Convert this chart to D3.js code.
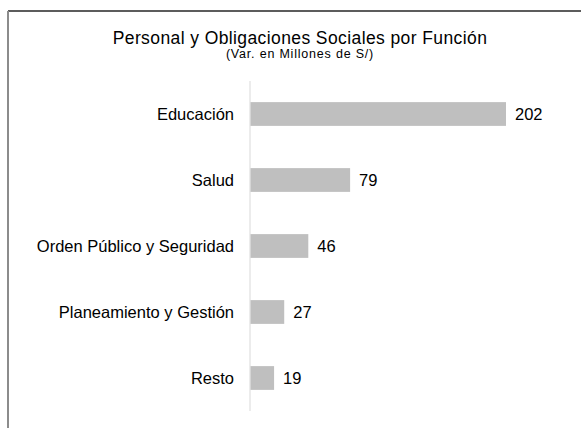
<!DOCTYPE html>
<html>
<head>
<meta charset="utf-8">
<script src="https://cdn.jsdelivr.net/npm/d3@7"></script>
<style>
  body{margin:0;background:#fff;}
  svg{display:block;font-family:"Liberation Sans",Arial,sans-serif;}
</style>
</head>
<body>
<svg id="chart" width="581" height="428"></svg>
<script>
// datos del grafico
var categorias = ['Educación','Salud','Orden Público y Seguridad','Planeamiento y Gestión','Resto'];
var valores = [202,79,46,27,19];
var titulo = 'Personal y Obligaciones Sociales por Función';
var subtitulo = '(Var. en Millones de S/)';

var svg = d3.select('#chart');

// marco
svg.append('line').attr('x1',8).attr('x2',581).attr('y1',11).attr('y2',11)
   .attr('stroke','#262626').attr('stroke-width',1.5);
svg.append('line').attr('x1',8).attr('x2',8).attr('y1',11).attr('y2',428)
   .attr('stroke','#8c8c8c').attr('stroke-width',2);

// titulos
svg.append('text').text(titulo)
   .attr('x',300).attr('y',44).attr('text-anchor','middle')
   .attr('font-size',17.5).attr('letter-spacing',0.4).attr('fill','#000');
svg.append('text').text(subtitulo)
   .attr('x',300).attr('y',58).attr('text-anchor','middle')
   .attr('font-size',12.5).attr('letter-spacing',0.8).attr('fill','#000');

var x0 = 250;
var x = d3.scaleLinear().domain([0,202]).range([x0,506]);
var y = d3.scaleBand().domain(categorias).range([81,411])
          .paddingInner(0.64).paddingOuter(0.32);

// eje vertical
svg.append('line').attr('x1',x0).attr('x2',x0).attr('y1',81).attr('y2',411)
   .attr('stroke','#d9d9d9').attr('stroke-width',1);

var g = svg.append('g');
g.selectAll('rect').data(valores).enter().append('rect')
   .attr('x',x(0)+0.5)
   .attr('y',function(d,i){return y(categorias[i]);})
   .attr('width',function(d){return x(d)-x(0)-0.5;})
   .attr('height',y.bandwidth())
   .attr('fill','#bfbfbf');

// etiquetas categoria
g.selectAll('.cat').data(categorias).enter().append('text')
   .attr('class','cat')
   .text(function(d){return d;})
   .attr('x',234)
   .attr('y',function(d){return y(d)+y.bandwidth()/2;})
   .attr('dy','0.35em')
   .attr('text-anchor','end')
   .attr('font-size',16.5).attr('fill','#000');

// etiquetas valor
g.selectAll('.val').data(valores).enter().append('text')
   .attr('class','val')
   .text(function(d){return d;})
   .attr('x',function(d){return x(d)+9;})
   .attr('y',function(d,i){return y(categorias[i])+y.bandwidth()/2;})
   .attr('dy','0.35em')
   .attr('font-size',16.5).attr('fill','#000');
</script>
</body>
</html>
